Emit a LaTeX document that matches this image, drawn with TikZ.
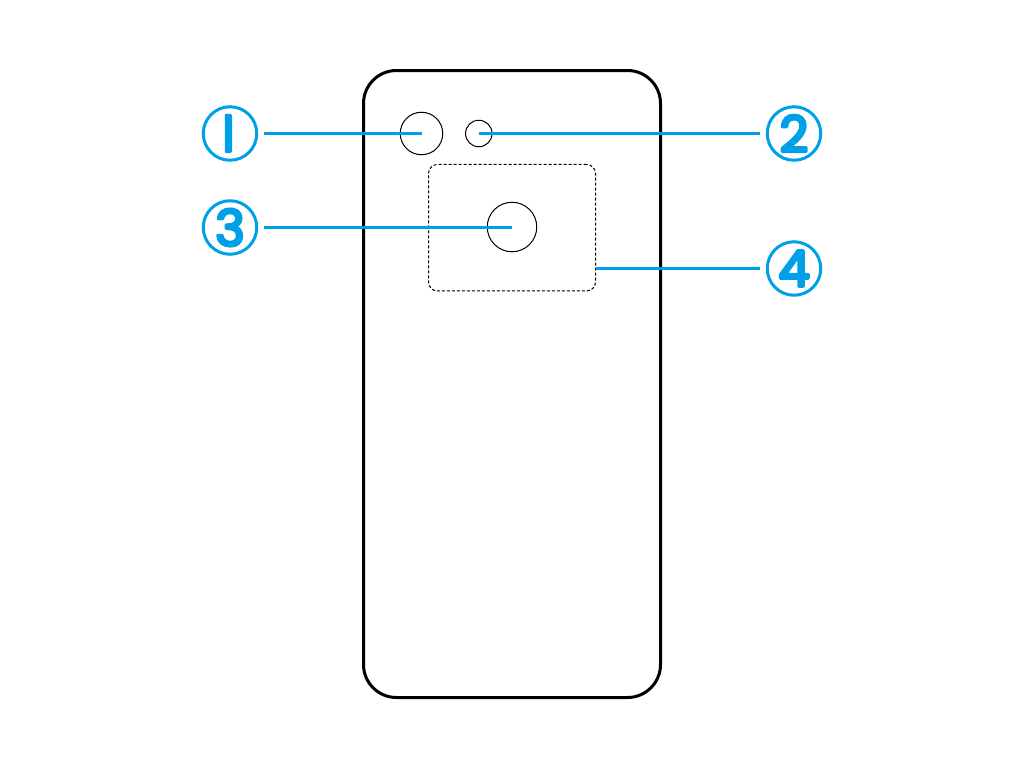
\documentclass[tikz,border=0pt]{standalone}
\usepackage{fontspec}
\usepackage{trimclip}
\newfontfamily\digitfont{Poppins}[FakeBold=6]
\definecolor{leadblue}{HTML}{00A0E9}
\newcommand{\roundstroke}{\special{pdf:code 1 j 1 J}}
\tikzset{
  phonebody/.style={draw=black,line width=3pt,rounded corners=33pt,minimum width=297pt,minimum height=627pt,inner sep=0pt},
  lens/.style={draw=black,line width=1pt,circle,inner sep=0pt},
  zonebox/.style={draw=black,line width=1pt,dashed,dash pattern=on 3pt off 2pt,rounded corners=9pt,minimum width=167pt,minimum height=126.5pt,inner sep=0pt},
  badge/.style={draw=leadblue,line width=3pt,circle,minimum size=53.5pt,inner sep=0pt,text=leadblue,font=\digitfont\fontsize{50}{50}\selectfont\roundstroke},
  lead/.style={draw=leadblue,line width=3pt,shorten <=5.75pt}
}
\begin{document}
\begin{tikzpicture}[x=1pt,y=-1pt]
\useasboundingbox (0,0) rectangle (1024,768);
\node[phonebody] (phone) at (512,384) {};
\node[zonebox] (zone) at (512,227.7) {};
\node[lens,minimum size=42.5pt] (cam) at (421.5,133.5) {};
\node[lens,minimum size=26.5pt] (flash) at (478.8,133.5) {};
\node[lens,minimum size=49.5pt] (sensor) at (512,227) {};
\node[badge] (b1) at (230,133.5) {\makebox[0pt][c]{\hspace*{6pt}\clipbox{5.6pt -6pt -6pt -6pt}{1}}};
\node[badge] (b2) at (794,133.5) {2};
\node[badge] (b3) at (230,227.5) {3};
\node[badge] (b4) at (794,268.5) {4};
\draw[lead] (b1) -- (cam.center);
\draw[lead] (b2) -- (flash.center);
\draw[lead] (b3) -- (sensor.center |- b3);
\draw[lead] (b4) -- (zone.east |- b4);
\end{tikzpicture}
\end{document}
